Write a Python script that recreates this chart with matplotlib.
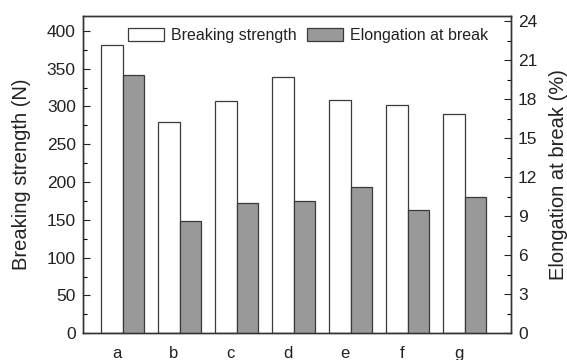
import numpy as np
import matplotlib
matplotlib.use("Agg")
import matplotlib.pyplot as plt
from matplotlib.ticker import MultipleLocator

plt.rcParams['font.family'] = ['Liberation Sans', 'DejaVu Sans']

# data
samples = ['a', 'b', 'c', 'd', 'e', 'f', 'g']
strength = [381, 280, 307.5, 339, 308.5, 302.5, 290]      # N
elongation = [19.9, 8.6, 10.05, 10.2, 11.25, 9.5, 10.45]  # %

x = np.arange(len(samples))
w = 0.385
txt = '#222222'

fig = plt.figure(figsize=(5.67, 3.6), dpi=100)
ax = fig.add_axes([0.1459, 0.0742, 0.7553, 0.8822])
ax2 = ax.twinx()

b1 = ax.bar(x - 0.09, strength, width=w, color='white', edgecolor='#3a3a3a',
            linewidth=0.9, label='Breaking strength')
b2 = ax2.bar(x + 0.295, elongation, width=w, color='#999999', edgecolor='#3a3a3a',
             linewidth=0.9, label='Elongation at break')

ax.set_xlim(-0.596, 6.918)
ax.set_ylim(0, 420)
ax2.set_ylim(0, 24.43)

ax.set_xticks(x)
ax.set_xticklabels(samples)
ax.yaxis.set_major_locator(MultipleLocator(50))
ax.yaxis.set_minor_locator(MultipleLocator(25))
ax2.yaxis.set_major_locator(MultipleLocator(3))
ax2.yaxis.set_minor_locator(MultipleLocator(1.5))

ax.tick_params(axis='x', length=0, pad=9, labelsize=12, colors=txt)
ax.tick_params(axis='y', which='major', direction='in', length=5, width=0.8,
               labelsize=12.5, colors=txt, pad=5)
ax.tick_params(axis='y', which='minor', direction='in', length=3, width=0.8)
ax2.tick_params(axis='y', which='major', direction='in', length=5, width=0.8,
                labelsize=12.5, colors=txt, pad=5)
ax2.tick_params(axis='y', which='minor', direction='in', length=3, width=0.8)

for a in (ax, ax2):
    for s in a.spines.values():
        s.set_linewidth(1.0)
        s.set_color('#333333')

ax.set_ylabel('Breaking strength (N)', fontsize=14.5, color=txt, labelpad=11)
ax2.set_ylabel('Elongation at break (%)', fontsize=14.5, color=txt, labelpad=8)

ax.legend([b1, b2], ['Breaking strength', 'Elongation at break'], ncol=2,
          loc='upper left', bbox_to_anchor=(0.1065, 0.962), frameon=False,
          fontsize=11.5, borderpad=0, borderaxespad=0, handlelength=2.25,
          handleheight=0.9, handletextpad=0.4, columnspacing=0.7,
          labelcolor=txt)

fig.savefig('out.png', dpi=100)
